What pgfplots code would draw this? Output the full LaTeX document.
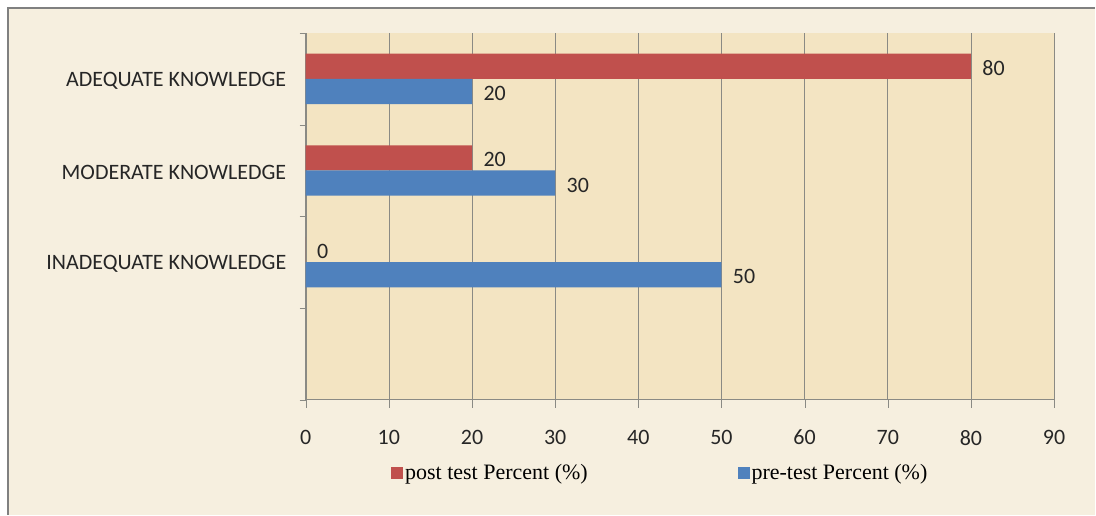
\documentclass[border=0pt]{standalone}
\usepackage{pgfplots}
\pgfplotsset{compat=1.18}
\usepackage{fontspec}
\setmainfont{Carlito}
\newfontfamily\legfont{Liberation Serif}
\definecolor{outerbg}{HTML}{F6EFDF}
\definecolor{plotbg}{HTML}{F3E4C2}
\definecolor{redbar}{HTML}{C0504D}
\definecolor{bluebar}{HTML}{4F81BD}
\definecolor{gridc}{HTML}{8A8A84}
\definecolor{framec}{HTML}{808080}
\begin{document}
\begin{tikzpicture}[x=1pt,y=1pt]
\fill[white] (0,0) rectangle (1096,515);
\fill[outerbg] (8,0) rectangle (1096,507);
\draw[framec,line width=2pt] (8,0) -- (8,507) -- (1096,507);
\begin{axis}[
  at={(306pt,115pt)}, anchor=south west,
  scale only axis, width=749pt, height=367pt,
  xbar, bar width=0.275,
  xmin=0, xmax=90, ymin=0, ymax=4,
  xtick={0,10,...,90},
  ytick={1.5,2.5,3.5},
  yticklabels={INADEQUATE KNOWLEDGE,MODERATE KNOWLEDGE,ADEQUATE KNOWLEDGE},
  minor ytick={0,1,2,3,4},
  axis x line*=bottom, axis y line*=left,
  axis line style={gridc,-},
  major tick style={gridc},
  minor tick style={gridc},
  tick align=outside,
  major tick length=8pt, minor tick length=6pt,
  major y tick style={draw=none},
  xmajorgrids, major grid style={gridc, line width=0.6pt},
  axis background/.style={fill=plotbg},
  /pgf/number format/assume math mode=true,
  tick label style={font=\fontsize{22}{26}\selectfont, text=black!85},
  xticklabel style={yshift=-19pt},
  yticklabel style={xshift=-8pt, yshift=-2pt},
  nodes near coords,
  nodes near coords style={anchor=west, xshift=8pt, yshift=-2pt, font=\fontsize{22}{26}\selectfont, text=black!85},
  legend columns=2,
  legend style={at={(0.114,-0.2)}, anchor=west, draw=none, fill=none,
    font=\legfont\fontsize{22}{26}\selectfont, inner sep=0pt,
    /tikz/every even column/.append style={column sep=148pt}},
  legend image code/.code={\fill[#1,draw=none] (0pt,-6pt) rectangle (12pt,6pt);},
  legend cell align=left,
]
\addplot[fill=redbar, draw=none, bar shift=0.1375] coordinates {(0,1.5) (20,2.5) (80,3.5)};
\addlegendentry{post test Percent (\%)}
\addplot[fill=bluebar, draw=none, bar shift=-0.1375] coordinates {(50,1.5) (30,2.5) (20,3.5)};
\addlegendentry{pre-test Percent (\%)}
\end{axis}
\end{tikzpicture}
\end{document}
